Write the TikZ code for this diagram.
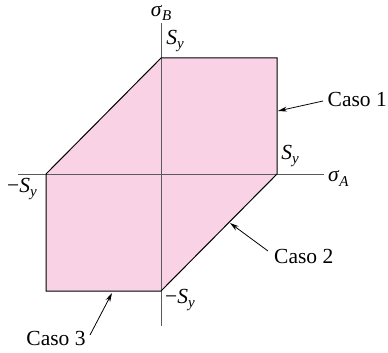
\documentclass[tikz,border=0pt]{standalone}
\usepackage{fontspec}
\setmainfont{Liberation Serif}
\usetikzlibrary{arrows.meta}
\definecolor{regionpink}{RGB}{249,211,229}
\definecolor{axisgray}{RGB}{90,90,90}
\newcommand\symsub[2]{\textit{#1}\raisebox{-0.5ex}{\fontsize{15}{15}\selectfont\textit{#2}}}
\tikzset{
  lbl/.style={font=\fontsize{21.5}{24}\selectfont, inner sep=1pt},
  axisline/.style={draw=axisgray, line width=0.9pt},
  outline/.style={draw=black, line width=1pt, line join=miter},
  callout/.style={draw=black, line width=0.8pt, -{Stealth[length=9pt,width=5pt]}}
}
\begin{document}
\begin{tikzpicture}[x=1pt,y=-1pt]
\useasboundingbox (0,0) rectangle (388,353);
% hexagon corners
\coordinate (p1) at (46,174);
\coordinate (p2) at (161,58);
\coordinate (p3) at (277,58);
\coordinate (p4) at (277,174);
\coordinate (p5) at (161,291);
\coordinate (p6) at (46,291);
% axes ends
\coordinate (vtop) at (161,23);
\coordinate (vbot) at (161,326);
\coordinate (hleft) at (18,174);
\coordinate (hright) at (324,174);
% fill
\fill[regionpink] (p1) -- (p2) -- (p3) -- (p4) -- (p5) -- (p6) -- cycle;
% axes
\draw[axisline] (vtop) -- (vbot);
\draw[axisline] (hleft) -- (hright);
% outline
\draw[outline] (p1) -- (p2) -- (p3) -- (p4) -- (p5) -- (p6) -- cycle;
% axis labels
\node[lbl] (sb) at (161,13) {\symsub{σ}{B}};
\node[lbl, anchor=west] (sa) at (327,178) {\symsub{σ}{A}};
\node[lbl] (sytop) at (175,41) {\symsub{S}{y}};
\node[lbl] (syright) at (290,156) {\symsub{S}{y}};
\node[lbl] (syleft) at (22,189) {−\symsub{S}{y}};
\node[lbl] (sybot) at (180,300) {−\symsub{S}{y}};
% case labels
\node[lbl, anchor=east, inner sep=0.5pt] (c1) at (387.5,99) {Caso 1};
\node[lbl, anchor=west] (c2) at (273,256) {Caso 2};
\node[lbl] (c3) at (56,338) {Caso 3};
\coordinate (t1) at (323,101);
\coordinate (h1) at (278,111);
\coordinate (t2) at (268,251);
\coordinate (h2) at (230,223);
\coordinate (t3) at (90,335);
\coordinate (h3) at (112,293);
\draw[callout] (t1) -- (h1);
\draw[callout] (t2) -- (h2);
\draw[callout] (t3) -- (h3);
\end{tikzpicture}
\end{document}
